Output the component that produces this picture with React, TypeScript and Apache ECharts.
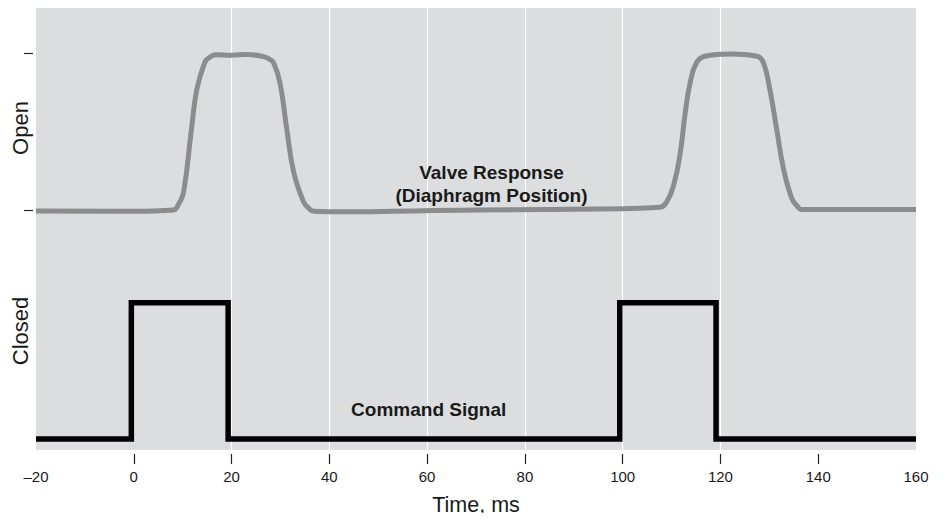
import React, { useEffect, useRef } from "react";
import * as echarts from "echarts";

// Time axis (ms)
const timeMin = -20;
const timeMax = 160;
const timeStep = 20;
const timeTickMarks = [0, 20, 40, 60, 80, 100, 120, 140];

// Vertical scale: 0..100 (relative units); ticks mark valve closed / open levels
const levelMin = 0;
const levelMax = 100;
const positionTicks = [54.2, 89.8];

// Valve response (diaphragm position)
const valveTime = [
  -20, 0, 8.1, 9.2, 10.2, 11.8, 12.9, 14.6, 15.5, 16.7, 20, 23.1, 26.5, 27.8, 28.6,
  29.9, 31.3, 32.7, 34.7, 35.8, 36.8, 40, 70, 100, 107.6, 109.0, 110.4, 111.7, 112.8,
  113.8, 115.1, 116.8, 122, 127.4, 128.8, 130.1, 131.5, 132.9, 134.6, 135.7, 136.6, 160,
];
const valvePosition = [
  54.1, 54.0, 54.3, 55.7, 58.4, 72.6, 81.6, 87.9, 88.8, 89.4, 89.3, 89.5, 89.0, 88.4, 87.6,
  83.1, 72.6, 62.9, 56.2, 54.7, 54.0, 53.9, 54.3, 54.6, 54.9, 56.1, 59.8, 66.6, 76.3,
  83.1, 87.6, 89.1, 89.6, 89.1, 87.6, 81.6, 72.6, 63.6, 56.9, 55.2, 54.4, 54.4,
];

// Command signal (square pulses)
const commandTime = [-20, -0.5, -0.5, 19.3, 19.3, 99.4, 99.4, 119.1, 119.1, 160];
const commandLevel = [2.5, 2.5, 33.3, 33.3, 2.5, 2.5, 33.3, 33.3, 2.5, 2.5];

const FONT = "'Liberation Sans', Arial, Helvetica, sans-serif";
const TEXT = "#1a1a1a";

export default function App() {
  const ref = useRef<HTMLDivElement>(null);

  useEffect(() => {
    if (!ref.current) return;
    const chart = echarts.init(ref.current, null, { renderer: "svg" });

    const valveData = valveTime.map((t, i) => [t, valvePosition[i]]);
    const commandData = commandTime.map((t, i) => [t, commandLevel[i]]);

    chart.setOption({
      animation: false,
      backgroundColor: "#ffffff",
      textStyle: { fontFamily: FONT },
      grid: {
        left: 36,
        right: 29,
        top: 8,
        bottom: 68,
        show: true,
        backgroundColor: "#dcdddf",
        borderWidth: 0,
      },
      xAxis: {
        type: "value",
        min: timeMin,
        max: timeMax,
        interval: timeStep,
        offset: 4,
        name: "Time, ms",
        nameLocation: "middle",
        nameGap: 40,
        nameTextStyle: { fontSize: 21.5, color: TEXT, fontFamily: FONT },
        axisLine: { show: false, onZero: false },
        axisTick: {
          show: true,
          length: 10,
          customValues: timeTickMarks,
          lineStyle: { color: "#222", width: 1.2 },
        },
        axisLabel: {
          fontSize: 15,
          color: TEXT,
          margin: 15,
          fontFamily: FONT,
          formatter: (v: number) => (v < 0 ? "\u2013" + Math.abs(v) : String(v)),
        },
        splitLine: {
          show: true,
          showMinLine: false,
          showMaxLine: false,
          lineStyle: { color: "#ffffff", width: 1.2 },
        },
      },
      yAxis: {
        type: "value",
        min: levelMin,
        max: levelMax,
        offset: 3,
        axisLine: { show: false, onZero: false },
        axisTick: {
          show: true,
          length: 9,
          customValues: positionTicks,
          lineStyle: { color: "#222", width: 1.2 },
        },
        axisLabel: { show: false },
        splitLine: { show: false },
      },
      series: [
        {
          name: "Valve Response",
          type: "line",
          data: valveData,
          smooth: 0.45,
          showSymbol: false,
          symbol: "none",
          lineStyle: { color: "#8c8c8c", width: 5, join: "round" },
          z: 3,
        },
        {
          name: "Command Signal",
          type: "line",
          data: commandData,
          showSymbol: false,
          symbol: "none",
          lineStyle: { color: "#000000", width: 5.5, join: "miter" },
          z: 4,
        },
      ],
      graphic: [
        {
          type: "text",
          x: 20,
          y: 128,
          rotation: Math.PI / 2,
          style: {
            text: "Open",
            fontSize: 22,
            fontFamily: FONT,
            fill: TEXT,
            align: "center",
            verticalAlign: "middle",
          },
        },
        {
          type: "text",
          x: 20,
          y: 331,
          rotation: Math.PI / 2,
          style: {
            text: "Closed",
            fontSize: 22,
            fontFamily: FONT,
            fill: TEXT,
            align: "center",
            verticalAlign: "middle",
          },
        },
        {
          type: "text",
          x: 491.5,
          y: 183.5,
          z: 100,
          style: {
            text: "Valve Response\n(Diaphragm Position)",
            fontSize: 19,
            fontWeight: "bold",
            lineHeight: 23,
            fontFamily: FONT,
            fill: TEXT,
            align: "center",
            verticalAlign: "middle",
          },
        },
        {
          type: "text",
          x: 428.7,
          y: 409,
          z: 100,
          style: {
            text: "Command Signal",
            fontSize: 19,
            fontWeight: "bold",
            fontFamily: FONT,
            fill: TEXT,
            align: "center",
            verticalAlign: "middle",
          },
        },
      ],
    });

    return () => chart.dispose();
  }, []);

  return <div ref={ref} style={{ width: 945, height: 521, margin: -8 }} />;
}
